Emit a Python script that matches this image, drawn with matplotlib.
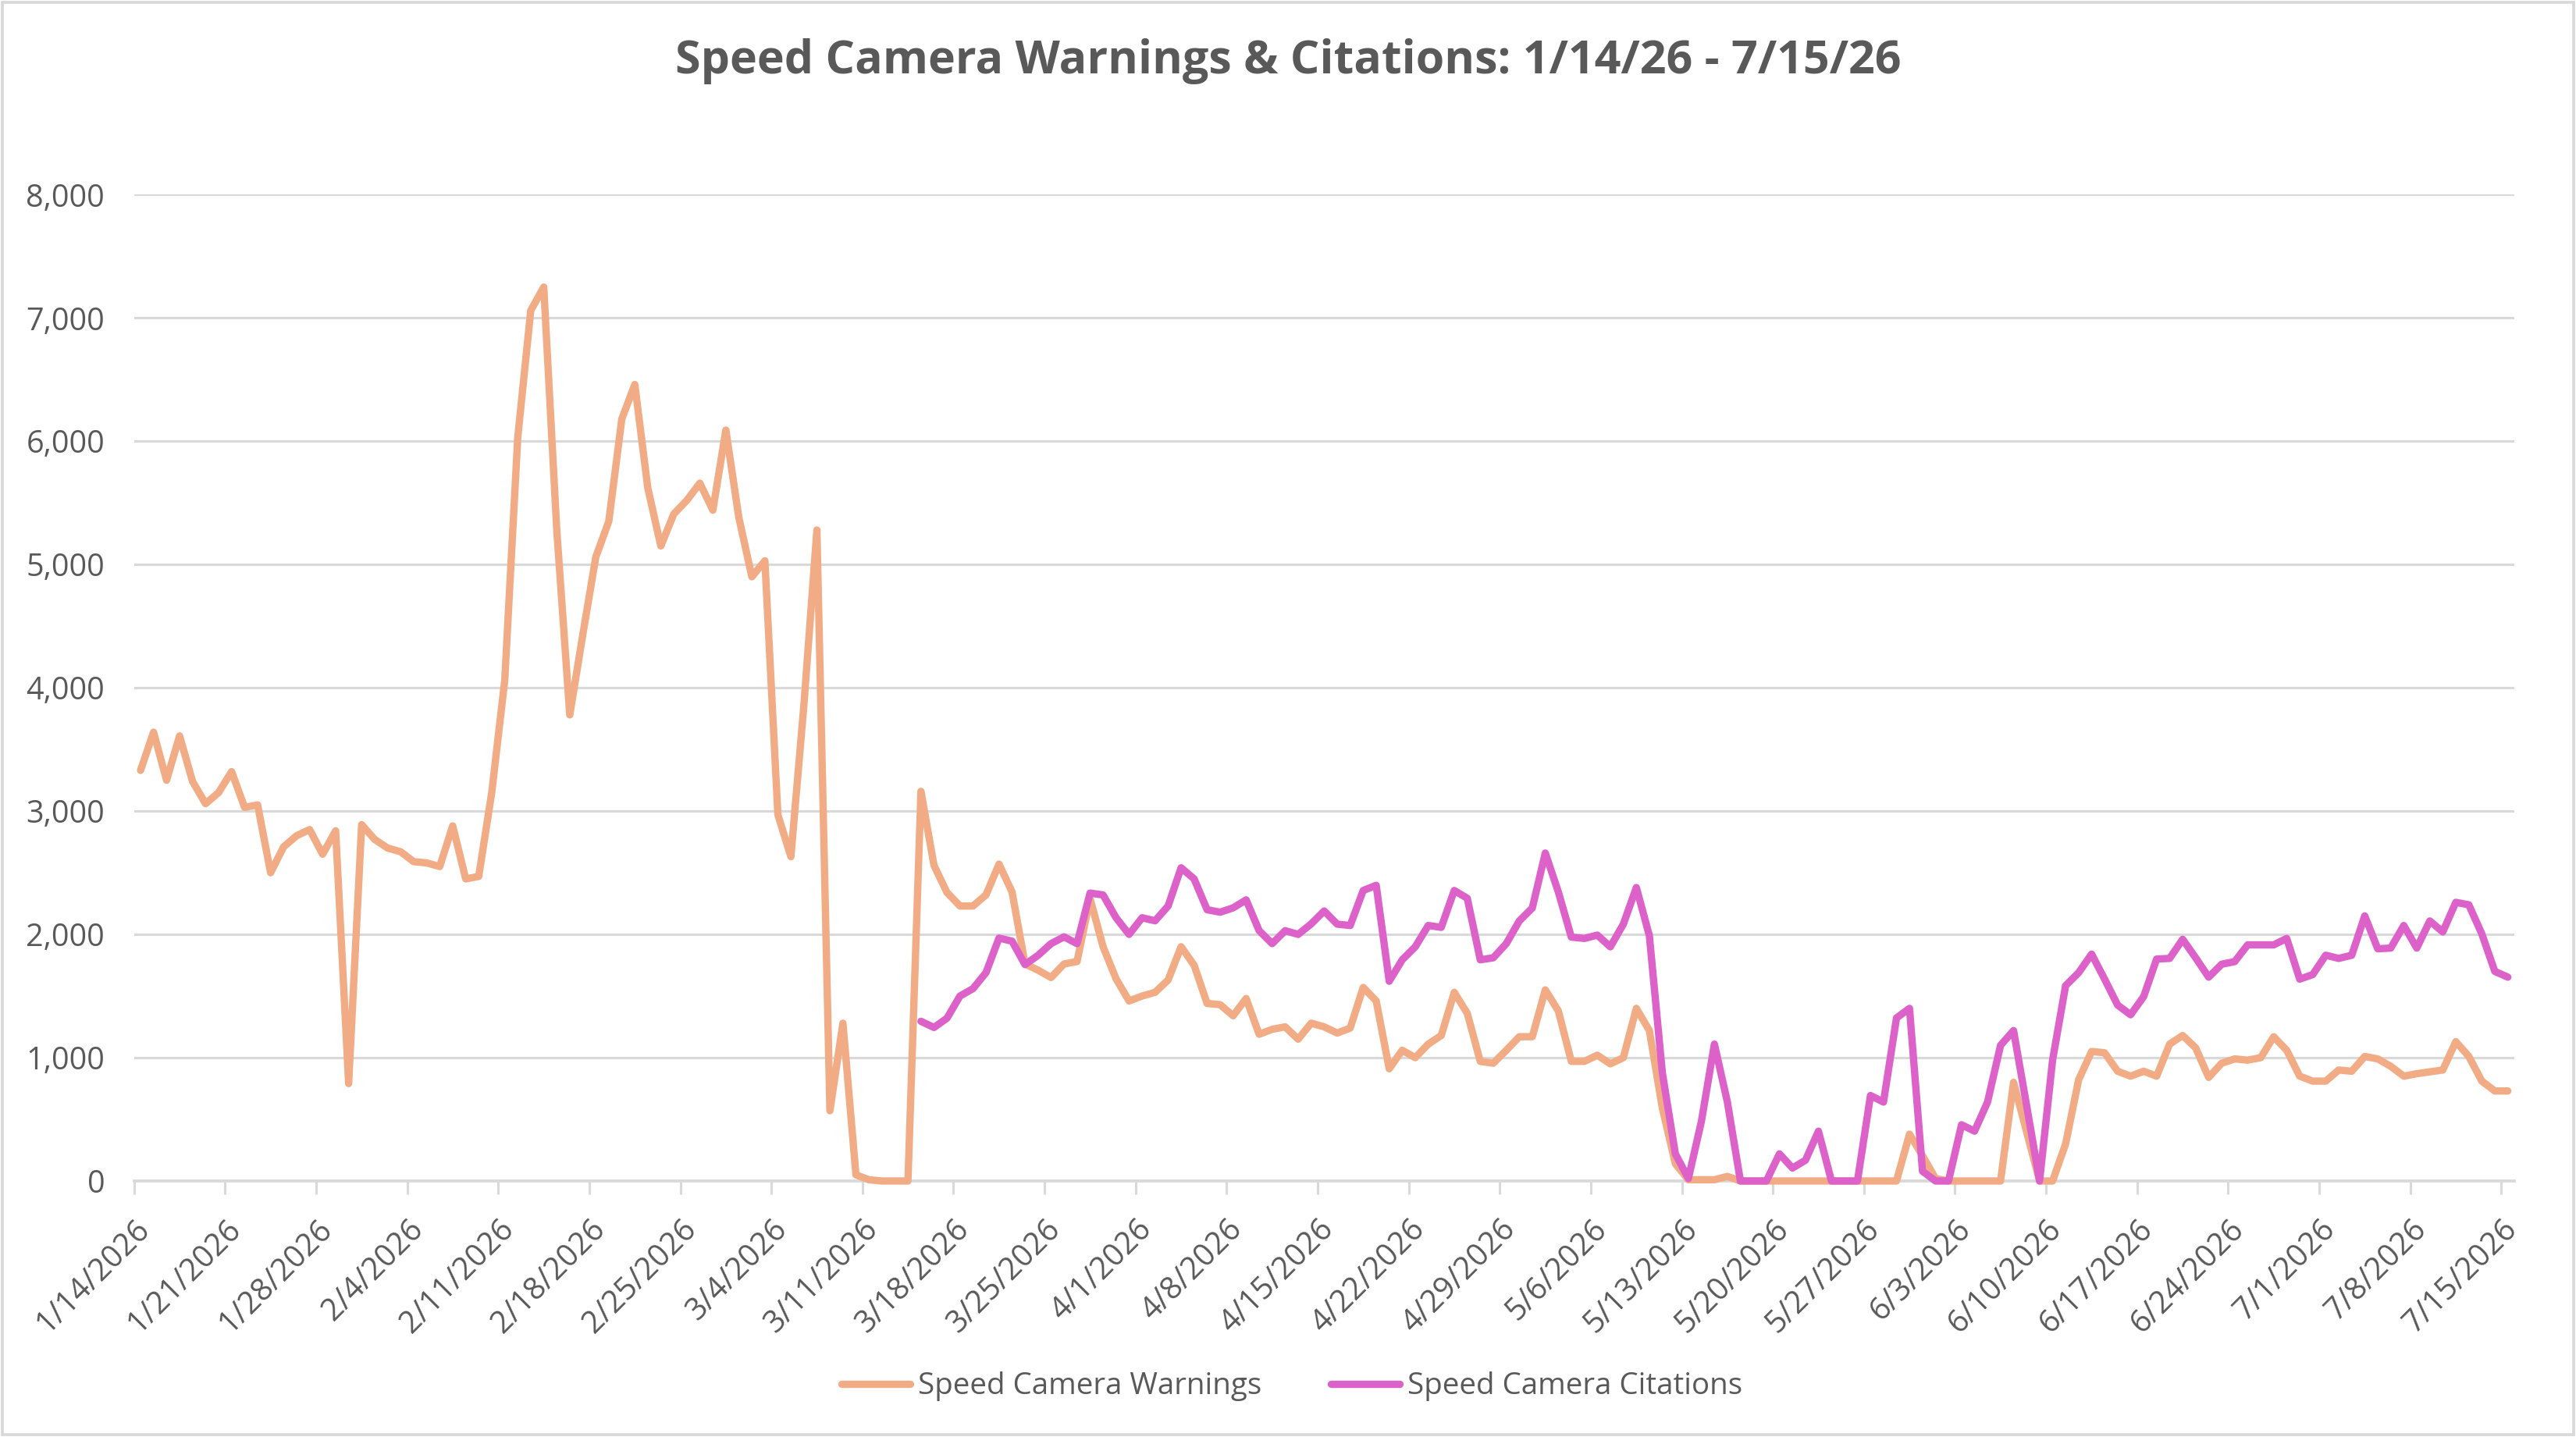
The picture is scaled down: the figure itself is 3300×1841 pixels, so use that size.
import numpy as np
import pandas as pd
import matplotlib.pyplot as plt
from matplotlib.patches import Rectangle

# daily values, 1/14/2026 .. 7/15/2026
start_date = "2026-01-14"
n_days = 183

warnings_vals = [
    3330, 3640, 3250, 3610, 3240, 3060, 3150, 3320, 3030, 3050,
    2500, 2710, 2800, 2850, 2650, 2840, 790, 2890, 2770, 2700,
    2670, 2590, 2580, 2550, 2880, 2450, 2470, 3150, 4060, 6030,
    7060, 7250, 5280, 3780, 4430, 5060, 5350, 6180, 6460, 5620,
    5150, 5410, 5520, 5660, 5440, 6090, 5380, 4900, 5030, 2970,
    2630, 3860, 5280, 570, 1280, 50, 10, 0, 0, 0,
    3160, 2560, 2340, 2230, 2230, 2320, 2570, 2345, 1760, 1710,
    1650, 1760, 1780, 2290, 1900, 1640, 1460, 1500, 1530, 1630,
    1900, 1750, 1440, 1430, 1340, 1480, 1190, 1230, 1250, 1150,
    1280, 1250, 1200, 1240, 1570, 1460, 910, 1060, 1000, 1110,
    1180, 1530, 1360, 970, 955, 1060, 1170, 1170, 1550, 1380,
    970, 970, 1020, 950, 1000, 1400, 1220, 590, 140, 10,
    10, 10, 37, 0, 0, 0, 0, 0, 0, 0,
    0, 0, 0, 0, 0, 0, 380, 205, 20, 0,
    0, 0, 0, 0, 800, 400, 0, 0, 300, 820,
    1050, 1040, 890, 850, 890, 850, 1110, 1180, 1080, 840,
    955, 990, 980, 1000, 1170, 1060, 850, 810, 810, 900,
    890, 1010, 990, 930, 850, 870, 885, 900, 1130, 1010,
    810, 730, 730,
]

# citations start on 3/15/2026 (day 60)
citations_start = 60
citations_vals = [
    1295, 1245, 1320, 1500, 1560, 1690, 1970, 1945, 1755, 1830,
    1925, 1980, 1925, 2335, 2320, 2135, 2000, 2135, 2110, 2230,
    2540, 2450, 2200, 2180, 2215, 2280, 2030, 1925, 2030, 2000,
    2085, 2190, 2083, 2072, 2356, 2398, 1620, 1794, 1899, 2072,
    2057, 2356, 2293, 1794, 1810, 1925, 2109, 2214, 2660, 2345,
    1978, 1967, 1994, 1899, 2083, 2380, 1990, 876, 220, 20,
    483, 1110, 640, 0, 0, 0, 220, 105, 168, 404,
    0, 0, 0, 693, 640, 1322, 1400, 79, 0, 0,
    456, 404, 640, 1100, 1220, 614, 0, 981, 1584, 1689,
    1840, 1637, 1427, 1348, 1495, 1800, 1805, 1960, 1810, 1653,
    1758, 1779, 1915, 1915, 1915, 1967, 1637, 1674, 1831, 1805,
    1831, 2150, 1883, 1889, 2072, 1889, 2109, 2020, 2260, 2240,
    2004, 1700, 1653,
]

y_ticks = [0, 1000, 2000, 3000, 4000, 5000, 6000, 7000, 8000]

COL_WARN = "#F2AC85"
COL_CIT = "#DC62C9"
GRID = "#D9D9D9"
TXT = "#595959"

dates = pd.date_range(start_date, periods=n_days, freq="D")
warn = np.array(warnings_vals, dtype=float)
cit = np.full(n_days, np.nan)
cit[citations_start:citations_start + len(citations_vals)] = citations_vals

# points sit in the middle of each day slot (excel "between tick marks")
x = np.arange(n_days) + 0.5

plt.rcParams["font.family"] = ["Open Sans", "DejaVu Sans"]

fig = plt.figure(figsize=(11, 1841 / 300), dpi=300)
ax = fig.add_axes([171.7 / 3300, 1 - 1513 / 1841, (3221 - 171.7) / 3300, (1513 - 249.3) / 1841])

ax.plot(x, warn, color=COL_WARN, lw=2.25, solid_joinstyle="round",
        solid_capstyle="round", clip_on=False, label="Speed Camera Warnings", zorder=3)
ax.plot(x, cit, color=COL_CIT, lw=2.25, solid_joinstyle="round",
        solid_capstyle="round", clip_on=False, label="Speed Camera Citations", zorder=4)

ax.set_xlim(0, n_days)
ax.set_ylim(0, 8000)

# y axis
ax.set_yticks(y_ticks)
ax.set_yticklabels([f"{v:,}" for v in y_ticks])
ax.grid(axis="y", color=GRID, lw=0.75)
ax.set_axisbelow(True)
ax.tick_params(axis="y", length=0, pad=9, labelsize=9.5, labelcolor=TXT)

# x axis: weekly ticks
tick_pos = np.arange(0, n_days, 7)
ax.set_xticks(tick_pos)
ax.set_xticklabels([f"{d.month}/{d.day}/{d.year}" for d in dates[tick_pos]],
                   rotation=45, ha="right", rotation_mode="anchor")
ax.tick_params(axis="x", length=4, width=0.75, color=GRID, pad=6,
               labelsize=9.5, labelcolor=TXT, direction="out")

for s in ["top", "right", "left"]:
    ax.spines[s].set_visible(False)
ax.spines["bottom"].set_color(GRID)
ax.spines["bottom"].set_linewidth(0.9)

fig.text(0.5, 1 - 78 / 1841, "Speed Camera Warnings & Citations: 1/14/26 - 7/15/26",
         ha="center", va="center", fontsize=14.2, fontweight="bold", color=TXT)

leg = fig.legend(loc="center", bbox_to_anchor=(0.5015, 1 - 1776 / 1841), ncol=2,
                 frameon=False, fontsize=9.25, handlelength=2.3, handletextpad=0.25,
                 columnspacing=2.3)
for t in leg.get_texts():
    t.set_color(TXT)

# chart area border
fig.patches.append(Rectangle((0.0008, 0.0015), 0.9984, 0.997, transform=fig.transFigure,
                             fill=False, edgecolor=GRID, lw=0.9))

fig.savefig("out.png", dpi=300, facecolor="white")
